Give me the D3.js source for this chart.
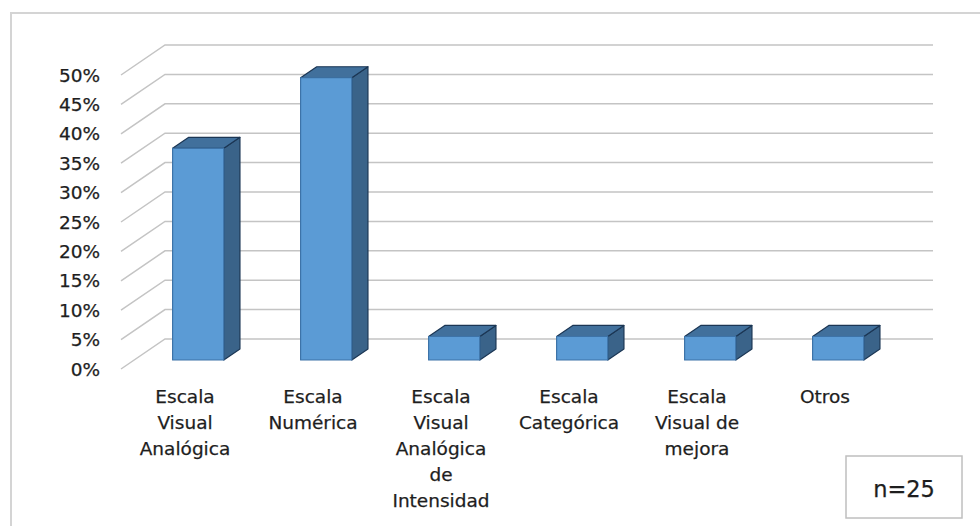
<!DOCTYPE html>
<html>
<head>
<meta charset="utf-8">
<script src="https://cdn.jsdelivr.net/npm/d3@7"></script>
<style>
  html, body { margin: 0; padding: 0; background: #ffffff; }
  svg { display: block; }
  text { font-family: "DejaVu Sans", sans-serif; fill: #1e1e1e; stroke: #1e1e1e; stroke-width: 0.25px; }
</style>
</head>
<body>
<svg id="chart" width="980" height="526"></svg>
<script>
// Pain-scale usage (share of respondents, n = 25)
const categories = [
  "Escala Visual Analógica",
  "Escala Numérica",
  "Escala Visual Analógica de Intensidad",
  "Escala Categórica",
  "Escala Visual de mejora",
  "Otros"
];
const categoryLines = [
  ["Escala", "Visual", "Analógica"],
  ["Escala", "Numérica"],
  ["Escala", "Visual", "Analógica", "de", "Intensidad"],
  ["Escala", "Categórica"],
  ["Escala", "Visual de", "mejora"],
  ["Otros"]
];
const values = [0.36, 0.48, 0.04, 0.04, 0.04, 0.04];
const tickValues = [0, 0.05, 0.10, 0.15, 0.20, 0.25, 0.30, 0.35, 0.40, 0.45, 0.50];
const sampleLabel = "n=25";

const svg = d3.select("#chart");

// 3D projection: depth 0 = front wall edge, depth 1 = back wall
const DX = 44, DY = 30;
const x = d3.scaleBand().domain(categories).range([121, 889])
  .paddingInner(0.6).paddingOuter(0.3);
const y = d3.scaleLinear().domain([0, 0.5]).range([369, 75]);
const P = (px, v, d) => [px + DX * d, y(v) - DY * d];

const barFront = 0.3, barBack = 0.667;

// outer frame
svg.append("rect")
  .attr("x", 11).attr("y", 13).attr("width", 1000).attr("height", 600)
  .attr("fill", "none").attr("stroke", "#d4d4d4").attr("stroke-width", 2);

// gridlines: diagonal side-wall segments + back wall lines
const grid = svg.append("g").attr("stroke", "#c4c4c4").attr("stroke-width", 1.5).attr("fill", "none");
const x0 = x.range()[0], x1 = x.range()[1];
tickValues.forEach(v => {
  const a = P(x0, v, 0), b = P(x0, v, 1), c = P(x1, v, 1);
  grid.append("path").attr("d", d3.line()([a, b, c]));
});

// y tick labels
svg.append("g").selectAll("text").data(tickValues).join("text")
  .attr("x", 100).attr("y", d => y(d))
  .attr("dy", "0.36em")
  .attr("text-anchor", "end")
  .attr("font-size", 18.5)
  .text(d => d3.format(".0%")(d));

// bars as 3D boxes
const bars = svg.append("g");
categories.forEach((c, i) => {
  const v = values[i];
  const xl = x(c), xr = x(c) + x.bandwidth();
  const fTL = P(xl, v, barFront), fTR = P(xr, v, barFront);
  const fBL = P(xl, 0, barFront), fBR = P(xr, 0, barFront);
  const bTL = P(xl, v, barBack), bTR = P(xr, v, barBack);
  const bBR = P(xr, 0, barBack);
  const g = bars.append("g").attr("stroke", "#1b3654").attr("stroke-width", 1.2).attr("stroke-linejoin", "round");
  g.append("path").attr("d", d3.line()([fTR, bTR, bBR, fBR]) + "Z").attr("fill", "#3a6389");
  g.append("path").attr("d", d3.line()([fTL, fTR, bTR, bTL]) + "Z").attr("fill", "#41709c");
  g.append("path").attr("d", d3.line()([fTL, fTR, fBR, fBL]) + "Z")
    .attr("fill", "#5b9bd5").attr("stroke", "#3d73a8");
});

// category labels (front plane band centres)
const labels = svg.append("g").attr("text-anchor", "middle").attr("font-size", 18.5);
categories.forEach((c, i) => {
  const cx = x(c) + x.bandwidth() / 2;
  const t = labels.append("text").attr("x", cx).attr("y", 403);
  categoryLines[i].forEach((line, j) => {
    t.append("tspan").attr("x", cx).attr("y", 403 + j * 26).text(line);
  });
});

// sample-size box
svg.append("rect")
  .attr("x", 846).attr("y", 456).attr("width", 116).attr("height", 62)
  .attr("fill", "#ffffff").attr("stroke", "#bfbfbf").attr("stroke-width", 1.5);
svg.append("text")
  .attr("x", 904).attr("y", 497).attr("text-anchor", "middle")
  .attr("font-size", 22.5).text(sampleLabel);
</script>
</body>
</html>
